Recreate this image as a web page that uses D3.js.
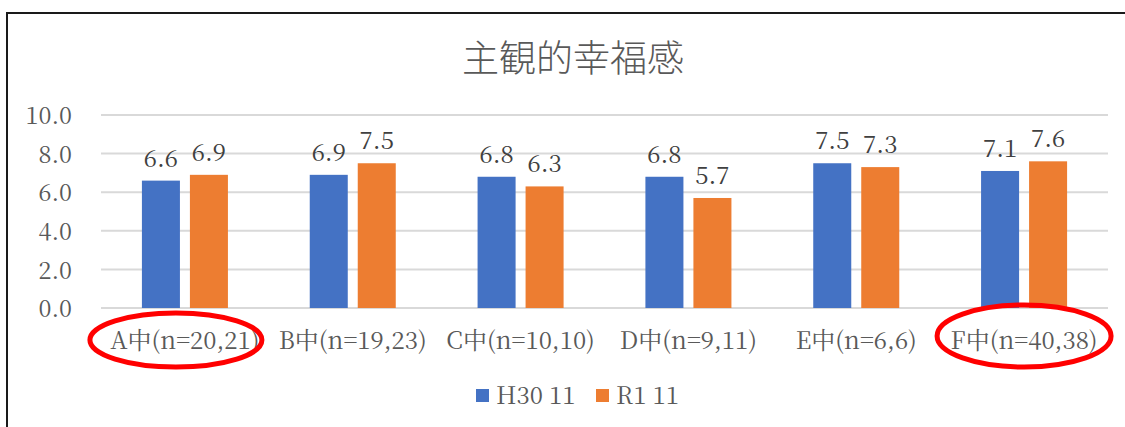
<!DOCTYPE html>
<html><head><meta charset="utf-8">
<script src="https://cdn.jsdelivr.net/npm/d3@7"></script>
<style>
html,body{margin:0;padding:0;background:#fff;}
svg{display:block;}
</style></head>
<body>
<script>
const title = "主観的幸福感";
const categories = ["A中(n=20,21)","B中(n=19,23)","C中(n=10,10)","D中(n=9,11)","E中(n=6,6)","F中(n=40,38)"];
const seriesNames = ["H30 11","R1 11"];
const h30 = [6.6, 6.9, 6.8, 6.8, 7.5, 7.1];
const r1 = [6.9, 7.5, 6.3, 5.7, 7.3, 7.6];
const yTicks = [0, 2, 4, 6, 8, 10];
const highlighted = ["A中(n=20,21)","F中(n=40,38)"];
const colors = ["#4472C4","#ED7D31"];

const W = 1125, H = 427;
const serif = '"Noto Serif CJK JP", "Liberation Serif", serif';
const sans = '"Noto Sans CJK JP", sans-serif';
const svg = d3.select("body").append("svg").attr("width", W).attr("height", H);

// chart border
svg.append("rect").attr("x", 7).attr("y", 13).attr("width", 1140).attr("height", 440)
  .attr("fill", "#fff").attr("stroke", "#1a1a1a").attr("stroke-width", 2);

const x0 = d3.scaleBand().domain(categories).range([101, 1108]).paddingInner(0.4875).paddingOuter(0.24375);
const x1 = d3.scaleBand().domain(seriesNames).range([0, x0.bandwidth()]).paddingInner(0.208);
const y = d3.scaleLinear().domain([0, 10]).range([308, 115]);

// gridlines
svg.append("g").selectAll("line").data(yTicks).join("line")
  .attr("x1", 101).attr("x2", 1108)
  .attr("y1", d => y(d)).attr("y2", d => y(d))
  .attr("stroke", "#d9d9d9").attr("stroke-width", 2);

// y tick labels
svg.append("g").selectAll("text").data(yTicks).join("text")
  .attr("x", 72).attr("y", d => y(d) + 1)
  .attr("dy", "0.35em").attr("text-anchor", "end")
  .style("font-family", serif).style("font-size", "23.5px").attr("fill", "#595959")
  .text(d => d3.format(".1f")(d));

// bars
const series = [h30, r1];
const g = svg.append("g");
series.forEach((vals, si) => {
  const data = categories.map((c, i) => ({c, v: vals[i]}));
  g.append("g").selectAll("rect").data(data).join("rect")
    .attr("x", d => x0(d.c) + x1(seriesNames[si]))
    .attr("y", d => y(d.v))
    .attr("width", x1.bandwidth())
    .attr("height", d => y(0) - y(d.v))
    .attr("fill", colors[si]);
  g.append("g").selectAll("text").data(data).join("text")
    .attr("x", d => x0(d.c) + x1(seriesNames[si]) + x1.bandwidth() / 2)
    .attr("y", d => y(d.v) - 14)
    .attr("text-anchor", "middle")
    .style("font-family", serif).style("font-size", "24px").attr("fill", "#404040")
    .text(d => d3.format(".1f")(d.v));
});

// category labels
svg.append("g").selectAll("text").data(categories).join("text")
  .attr("x", d => x0(d) + x0.bandwidth() / 2)
  .attr("y", 349)
  .attr("text-anchor", "middle")
  .style("font-family", serif).style("font-size", "24px").attr("fill", "#595959")
  .text(d => d);

// title
svg.append("text").attr("x", 573).attr("y", 72)
  .attr("text-anchor", "middle")
  .style("font-family", sans).style("font-weight", 300)
  .style("font-size", "37px").attr("fill", "#595959")
  .text(title);

// legend
const legendX = [476, 596];
seriesNames.forEach((s, i) => {
  svg.append("rect").attr("x", legendX[i]).attr("y", 389).attr("width", 13).attr("height", 13).attr("fill", colors[i]);
  svg.append("text").attr("x", legendX[i] + 20).attr("y", 396).attr("dy", "0.35em")
    .style("font-family", serif).style("font-size", "24px").attr("fill", "#595959").text(s);
});

// red ellipse annotations
const ellipseShape = {"A中(n=20,21)": {dx: -9, cy: 340, rx: 86, ry: 27}, "F中(n=40,38)": {dx: 0, cy: 336, rx: 87, ry: 31}};
svg.append("g").selectAll("ellipse").data(highlighted).join("ellipse")
  .attr("cx", d => x0(d) + x0.bandwidth() / 2 + ellipseShape[d].dx)
  .attr("cy", d => ellipseShape[d].cy)
  .attr("rx", d => ellipseShape[d].rx)
  .attr("ry", d => ellipseShape[d].ry)
  .attr("fill", "none").attr("stroke", "#ff0000").attr("stroke-width", 5);
</script>
</body></html>
